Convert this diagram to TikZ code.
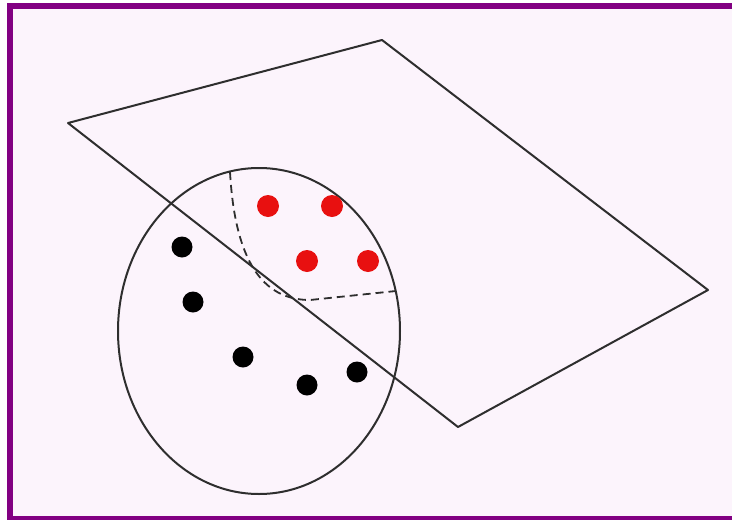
\documentclass[tikz,border=0pt]{standalone}
\definecolor{bgpink}{HTML}{FCF4FC}
\definecolor{frame}{HTML}{820082}
\definecolor{ink}{HTML}{2E2E2E}
\definecolor{reddot}{HTML}{E81010}
\tikzset{
  edge/.style={draw=ink, line width=2pt},
  dashedge/.style={draw=ink, line width=1.8pt, dash pattern=on 8pt off 5pt},
  reddotstyle/.style={fill=reddot},
  blackdot/.style={fill=black},
}
\begin{document}
\begin{tikzpicture}[x=1pt,y=-1pt]
\useasboundingbox (0,0) rectangle (732,520);
\fill[white] (0,0) rectangle (732,520);
\fill[bgpink] (13,9) rectangle (732,516);
% frame
\fill[frame] (7,3) rectangle (732,9);
\fill[frame] (7,3) rectangle (13,520);
\fill[frame] (7,516) rectangle (732,520);
% plane
\coordinate (p1) at (68,123);
\coordinate (p2) at (382,40);
\coordinate (p3) at (708,290);
\coordinate (p4) at (458,427);
\draw[edge, line join=round] (p1) -- (p2) -- (p3) -- (p4) -- cycle;
% ellipse
\draw[edge] (259,331) ellipse [x radius=141, y radius=163];
% dashed region boundary
\coordinate (d1) at (230,172);
\coordinate (d2) at (310,300);
\coordinate (d3) at (396,291);
\draw[dashedge] (d1) .. controls (235,260) and (262,300) .. (d2) -- (d3);
% red dots
\foreach \x/\y in {268/206, 332/206, 307/261, 368/261}
  \fill[reddotstyle] (\x,\y) circle (11);
% black dots
\foreach \x/\y in {182/247, 193/302, 243/357, 307/385, 357/372}
  \fill[blackdot] (\x,\y) circle (10.5);
\end{tikzpicture}
\end{document}
